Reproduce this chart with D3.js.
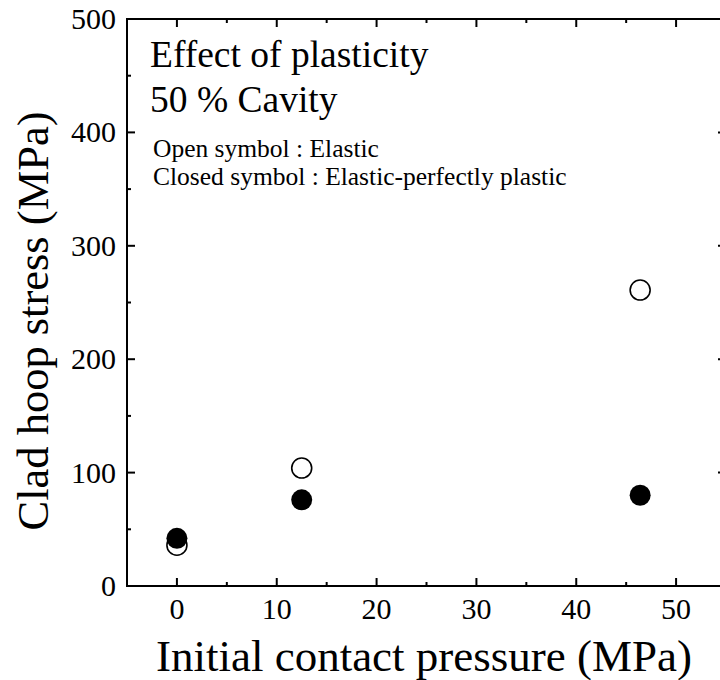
<!DOCTYPE html>
<html lang="en">
<head>
<meta charset="utf-8">
<title>clad hoop stress</title>
<script src="https://d3js.org/d3.v7.min.js"></script>
<style>
  body{margin:0;background:#fff;}
  svg{font-family:"Liberation Serif","Times New Roman",serif;}
</style>
</head>
<body>
<div id="chart"></div>
<script>
// values
var pressure = [0, 12.5, 46.4]          // initial contact pressure (MPa)
var elastic = [36, 104, 261]            // open symbols
var plastic = [42, 76, 80]              // closed symbols
var xTicks = [0, 10, 20, 30, 40, 50]
var yTicks = [0, 100, 200, 300, 400, 500]

var W = 720, H = 680
var mLeft = 127, mRight = 726, mTop = 19, mBottom = 586

var x = d3.scaleLinear().domain([-5, 55]).range([mLeft, mRight])
var y = d3.scaleLinear().domain([0, 500]).range([mBottom, mTop])

var svg = d3.select("#chart").append("svg").attr("width", W).attr("height", H)

// frame
svg.append("rect")
  .attr("x", mLeft).attr("y", mTop)
  .attr("width", mRight - mLeft).attr("height", mBottom - mTop)
  .attr("fill", "none").attr("stroke", "#000").attr("stroke-width", 2)

// inward ticks on all four sides
var g = svg.append("g").attr("stroke", "#000").attr("stroke-width", 2)
d3.range(-5, 56, 5).forEach(function(v){
  var len = (v % 10 == 0) ? 8 : 4
  g.append("line").attr("x1", x(v)).attr("x2", x(v)).attr("y1", mBottom).attr("y2", mBottom - len)
  g.append("line").attr("x1", x(v)).attr("x2", x(v)).attr("y1", mTop).attr("y2", mTop + len)
})
d3.range(0, 501, 50).forEach(function(v){
  var len = (v % 100 == 0) ? 8 : 4
  g.append("line").attr("y1", y(v)).attr("y2", y(v)).attr("x1", mLeft).attr("x2", mLeft + len)
  g.append("line").attr("y1", y(v)).attr("y2", y(v)).attr("x1", mRight).attr("x2", mRight - len)
})

// tick labels
svg.selectAll(".xt").data(xTicks).enter().append("text")
  .attr("x", function(d){ return x(d) }).attr("y", 619)
  .attr("text-anchor", "middle").attr("font-size", 30)
  .text(function(d){ return d })
svg.selectAll(".yt").data(yTicks).enter().append("text")
  .attr("x", 116).attr("y", function(d){ return y(d) + 10 })
  .attr("text-anchor", "end").attr("font-size", 30)
  .text(function(d){ return d })

// axis titles
svg.append("text").attr("x", 424).attr("y", 671)
  .attr("text-anchor", "middle").attr("font-size", 45)
  .text("Initial contact pressure (MPa)")
svg.append("text")
  .attr("transform", "translate(48,321) rotate(-90)")
  .attr("text-anchor", "middle").attr("font-size", 44.5)
  .text("Clad hoop stress (MPa)")

// annotations
svg.append("text").attr("x", 150).attr("y", 67).attr("font-size", 37.5).text("Effect of plasticity")
svg.append("text").attr("x", 150).attr("y", 112).attr("font-size", 37.5).text("50 % Cavity")
svg.append("text").attr("x", 153).attr("y", 157).attr("font-size", 25.5).text("Open symbol : Elastic")
svg.append("text").attr("x", 153).attr("y", 185).attr("font-size", 25.5).text("Closed symbol : Elastic-perfectly plastic")

// points
svg.selectAll(".open").data(pressure).enter().append("circle")
  .attr("cx", function(d){ return x(d) })
  .attr("cy", function(d, i){ return y(elastic[i]) })
  .attr("r", 10).attr("fill", "#fff").attr("stroke", "#000").attr("stroke-width", 1.6)
svg.selectAll(".closed").data(pressure).enter().append("circle")
  .attr("cx", function(d){ return x(d) })
  .attr("cy", function(d, i){ return y(plastic[i]) })
  .attr("r", 10.5).attr("fill", "#000")
</script>
</body>
</html>
